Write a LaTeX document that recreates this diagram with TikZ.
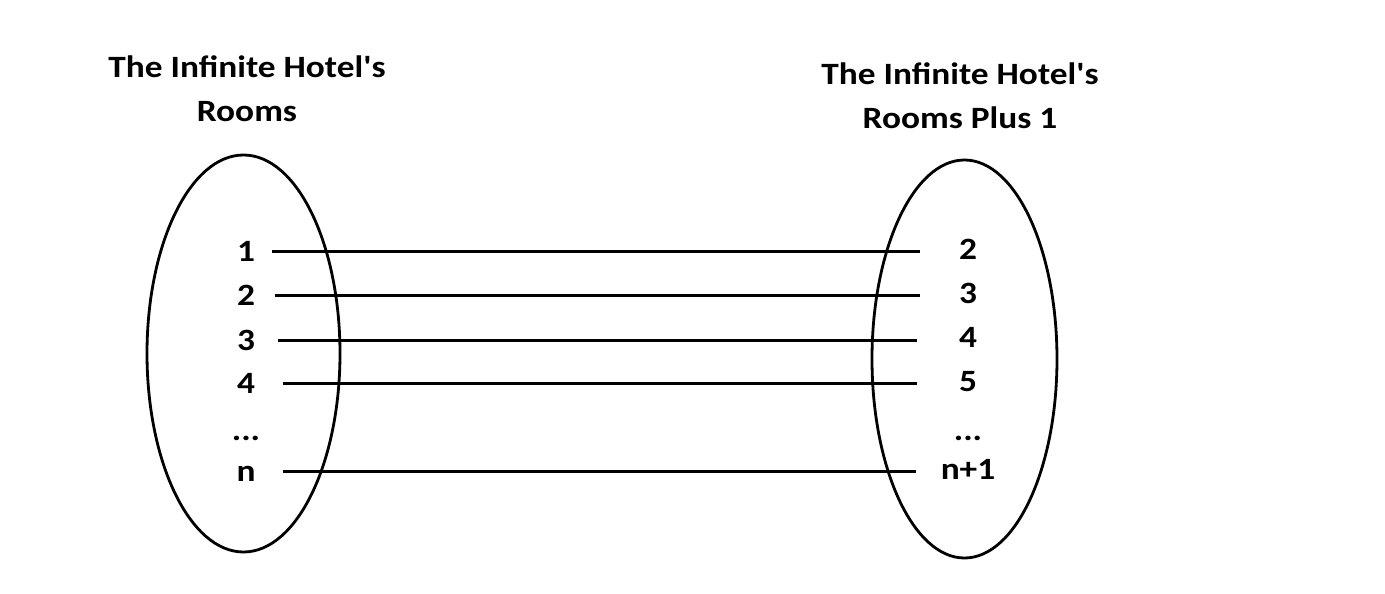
\documentclass[tikz,border=0pt]{standalone}
\usepackage{fontspec}
\setmainfont{Carlito}[Ligatures=TeXOff,FakeStretch=1.14]

\newcommand\leftx{246}
\newcommand\rightx{968}
\tikzset{
  lnum/.style={minimum width=52pt,inner sep=0pt,text height=20pt,text depth=0pt},
  rnum/.style={minimum width=96pt,inner sep=0pt,text height=20pt,text depth=0pt},
  title/.style={align=center},
  link/.style={line width=3pt},
  setline/.style={line width=2.8pt}
}

\begin{document}
\begin{tikzpicture}[x=1pt,y=-1pt,font=\fontsize{31}{44}\selectfont\bfseries]
    \useasboundingbox (0,0) rectangle (1385,594);

    % titles
    \node[title] (ltitle) at (247,89) {The Infinite Hotel's\\ Rooms};
    \node[title] (rtitle) at (960,96) {The Infinite Hotel's\\ Rooms Plus 1};

    % the two sets
    \draw[setline] (243.5,353.5) ellipse (96.5 and 198.5);
    \draw[setline] (964.5,359) ellipse (92.5 and 199);

    % rooms
    \node[lnum] (l1) at (\leftx,251) {1};
    \node[lnum] (l2) at (\leftx,295) {2};
    \node[lnum] (l3) at (\leftx,340) {3};
    \node[lnum] (l4) at (\leftx,383) {4};
    \node[lnum] (ldots) at (\leftx,430) {...};
    \node[lnum] (ln) at (\leftx,471) {n};

    % rooms plus 1
    \node[rnum] (r1) at (\rightx,249) {2};
    \node[rnum] (r2) at (\rightx,293) {3};
    \node[rnum] (r3) at (\rightx,337) {4};
    \node[rnum] (r4) at (\rightx,381) {5};
    \node[rnum] (rdots) at (\rightx,430) {...};
    \node[rnum] (rn) at (\rightx,469) {n+1};

    \draw[link] (l1.east) -- (l1.east -| r1.west);
    \draw[link,shorten <=3pt] (l2.east) -- (l2.east -| r2.west);
    \draw[link,shorten <=6pt,shorten >=3pt] (l3.east) -- (l3.east -| r3.west);
    \draw[link,shorten <=11pt,shorten >=3pt] (l4.east) -- (l4.east -| r4.west);
    \draw[link,shorten <=11pt,shorten >=4pt] (ln.east) -- (ln.east -| rn.west);
  \end{tikzpicture}
\end{document}
